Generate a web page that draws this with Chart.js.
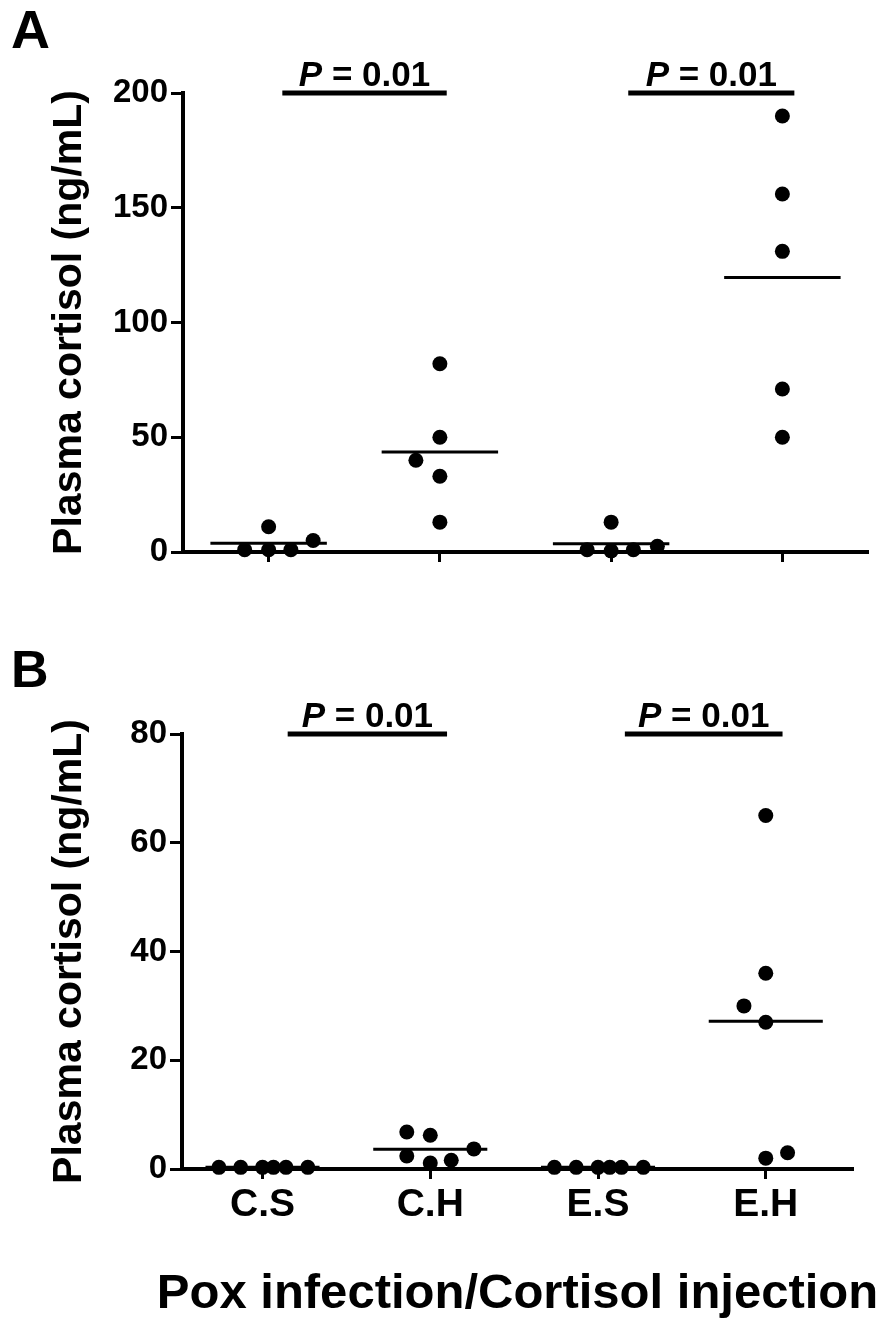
<!DOCTYPE html>
<html>
<head>
<meta charset="utf-8">
<script src="https://cdn.jsdelivr.net/npm/chart.js@4.4.1/dist/chart.umd.min.js"></script>
<style>
    body { margin: 0; background: #fff; }
    #wrap { position: relative; width: 892px; height: 1336px; }
    canvas { position: absolute; left: 0; }
    #chartA { top: 0; }
    #chartB { top: 620px; }
</style>
</head>
<body>
<div id="wrap">
    <canvas id="chartA" width="892" height="600"></canvas>
    <canvas id="chartB" width="892" height="716"></canvas>
</div>
<script>
// groups: pox infection (C = control, E = exposed) / injection (S = saline, H = hydrocortisone)
const groups = ['C.S', 'C.H', 'E.S', 'E.H'];
const yTicksA = [0, 50, 100, 150, 200];
const yTicksB = [0, 20, 40, 60, 80];

// panel A values (ng/mL)
const aCS = [1, 11, 1, 1, 5];
const aCH = [82, 50, 40, 33, 13];
const aES = [13, 1, 0.5, 1, 2.5];
const aEH = [190, 156, 131, 71, 50];
// sideways spread of the dots inside each group (category units)
const aCSx = [-0.14, 0, 0, 0.13, 0.26];
const aCHx = [0, 0, -0.14, 0, 0];
const aESx = [0, -0.14, 0, 0.13, 0.27];
const aEHx = [0, 0, 0, 0, 0];

// panel B values (ng/mL)
const bCS = [0.3, 0.3, 0.3, 0.3, 0.3, 0.3];
const bCH = [6.8, 6.2, 2.4, 1.1, 1.6, 3.7];
const bES = [0.3, 0.3, 0.3, 0.3, 0.3, 0.3];
const bEH = [65, 36, 30, 27, 2, 3];
const bCSx = [-0.26, -0.13, 0, 0.065, 0.14, 0.27];
const bCHx = [-0.14, 0, -0.14, 0, 0.125, 0.26];
const bESx = [-0.26, -0.13, 0, 0.07, 0.14, 0.27];
const bEHx = [0, 0, -0.13, 0, 0, 0.13];

// significance bars (from, to in category units) and their p values
const sigA = [[0.08, 1.04], [2.1, 3.07]];
const sigB = [[0.15, 1.1], [2.16, 3.1]];
const pA = ['0.01', '0.01'];
const pB = ['0.01', '0.01'];

const yTitle = 'Plasma cortisol (ng/mL)';
const xTitle = 'Pox infection/Cortisol injection';

const FONT = '"Liberation Sans", Arial, Helvetica, sans-serif';
Chart.defaults.font.family = FONT;
Chart.defaults.font.weight = 'bold';
Chart.defaults.color = '#000';

const mean = (arr) => arr.reduce((s, v) => s + v, 0) / arr.length;

function groupSets(values, offsets) {
    const sets = [];
    values.forEach((vals, g) => {
        const m = mean(vals);
        sets.push({
            data: [{x: g - 0.34, y: m}, {x: g + 0.34, y: m}],
            showLine: true,
            borderColor: '#000',
            borderWidth: 3,
            pointRadius: 0,
            clip: false,
        });
        sets.push({
            data: vals.map((v, i) => ({x: g + offsets[g][i], y: v})),
            backgroundColor: '#000',
            borderWidth: 0,
            pointRadius: 7.5,
            clip: false,
        });
    });
    return sets;
}

function sigSets(bars, top) {
    return bars.map(([s, e]) => ({
        data: [{x: s, y: top}, {x: e, y: top}],
        showLine: true,
        borderColor: '#000',
        borderWidth: 5,
        pointRadius: 0,
        clip: false,
    }));
}

const annotate = {
    id: 'annotate',
    afterDraw(chart, args, opts) {
        const {ctx, scales: {x, y}} = chart;
        ctx.save();
        ctx.fillStyle = '#000';
        ctx.textBaseline = 'alphabetic';
        ctx.textAlign = 'left';
        ctx.font = 'bold ' + opts.letterSize + 'px ' + FONT;
        ctx.fillText(opts.letter, 11, opts.letterY);

        opts.bars.forEach(([s, e], i) => {
            const cx = (x.getPixelForValue(s) + x.getPixelForValue(e)) / 2;
            const by = y.getPixelForValue(opts.top) - 7;
            const rest = ' = ' + opts.p[i];
            ctx.font = 'italic bold 35px ' + FONT;
            const wP = ctx.measureText('P').width;
            ctx.font = 'bold 35px ' + FONT;
            const wR = ctx.measureText(rest).width;
            const x0 = cx - (wP + wR) / 2;
            ctx.font = 'italic bold 35px ' + FONT;
            ctx.fillText('P', x0, by);
            ctx.font = 'bold 35px ' + FONT;
            ctx.fillText(rest, x0 + wP, by);
        });

        // x axis title, not squeezed into the axis width
        if (opts.xTitle) {
            ctx.font = 'bold 49px ' + FONT;
            ctx.textAlign = 'center';
            ctx.fillText(opts.xTitle, (x.left + x.right) / 2, opts.xTitleY);
        }
        ctx.restore();
    }
};

function makeChart(id, cfg) {
    return new Chart(document.getElementById(id).getContext('2d'), {
        type: 'scatter',
        data: {datasets: cfg.datasets},
        plugins: [annotate],
        options: {
            responsive: false,
            animation: false,
            devicePixelRatio: 1,
            layout: {padding: cfg.padding},
            plugins: {
                legend: {display: false},
                tooltip: {enabled: false},
                annotate: cfg.annotate,
            },
            scales: {
                x: {
                    type: 'linear',
                    min: cfg.xMin,
                    max: cfg.xMax,
                    afterBuildTicks: (scale) => { scale.ticks = groups.map((g, i) => ({value: i})); },
                    afterFit: (scale) => { scale.height = cfg.xHeight; },
                    ticks: {
                        display: cfg.showLabels,
                        padding: 3,
                        maxRotation: 0,
                        font: {size: 39, weight: 'bold'},
                        callback: (v) => groups[v],
                    },
                    grid: {
                        display: true,
                        drawOnChartArea: false,
                        drawTicks: true,
                        tickLength: 10,
                        tickWidth: 3,
                        tickColor: '#000',
                    },
                    border: {display: true, color: '#000', width: 4},
                },
                y: {
                    min: cfg.yTicks[0],
                    max: cfg.yTicks[cfg.yTicks.length - 1],
                    afterBuildTicks: (scale) => { scale.ticks = cfg.yTicks.map(v => ({value: v})); },
                    afterFit: (scale) => { scale.width = cfg.yWidth; },
                    ticks: {
                        padding: 3,
                        font: {size: 33, weight: 'bold'},
                    },
                    grid: {
                        display: true,
                        drawOnChartArea: false,
                        drawTicks: true,
                        tickLength: 12,
                        tickWidth: 3,
                        tickColor: '#000',
                    },
                    border: {display: true, color: '#000', width: 4},
                    title: {
                        display: true,
                        text: yTitle,
                        font: {size: 41, weight: 'bold'},
                        padding: {top: 45, bottom: 0},
                    },
                },
            },
        },
    });
}

makeChart('chartA', {
    datasets: [
        ...sigSets(sigA, yTicksA[yTicksA.length - 1]),
        ...groupSets([aCS, aCH, aES, aEH], [aCSx, aCHx, aESx, aEHx]),
    ],
    padding: {top: 93, right: 24, bottom: 8, left: 0},
    xMin: -0.5, xMax: 3.5,
    xHeight: 40,
    yWidth: 183,
    yTicks: yTicksA,
    showLabels: false,
    annotate: {letter: 'A', letterSize: 54, letterY: 48, bars: sigA, p: pA, top: yTicksA[yTicksA.length - 1]},
});

makeChart('chartB', {
    datasets: [
        ...sigSets(sigB, yTicksB[yTicksB.length - 1]),
        ...groupSets([bCS, bCH, bES, bEH], [bCSx, bCHx, bESx, bEHx]),
    ],
    padding: {top: 114, right: 39, bottom: 13, left: 0},
    xMin: -0.48, xMax: 3.52,
    xHeight: 154,
    yWidth: 182,
    yTicks: yTicksB,
    showLabels: true,
    annotate: {
        letter: 'B', letterSize: 52, letterY: 67, bars: sigB, p: pB, top: yTicksB[yTicksB.length - 1],
        xTitle: xTitle, xTitleY: 688,
    },
});
</script>
</body>
</html>
